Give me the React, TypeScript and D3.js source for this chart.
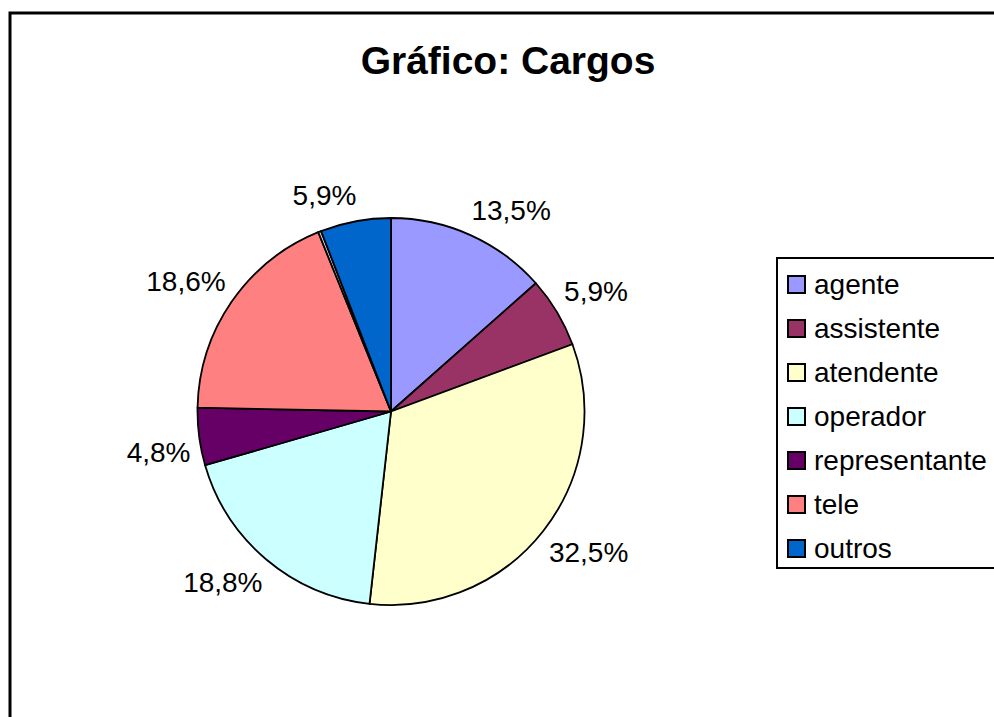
import React, { useEffect, useRef } from 'react';
import * as d3 from 'd3';

const categories = ['agente', 'assistente', 'atendente', 'operador', 'representante', 'tele', '', 'outros'];
const values = [13.5, 5.9, 32.5, 18.8, 4.8, 18.6, 0.25, 5.9];
const labels = ['13,5%', '5,9%', '32,5%', '18,8%', '4,8%', '18,6%', '', '5,9%'];
const colors = ['#9999FF', '#993366', '#FFFFCC', '#CCFFFF', '#660066', '#FF8080', '#E0E0E0', '#0066CC'];

const App = () => {
  const svgRef = useRef<SVGSVGElement>(null);

  useEffect(() => {
    document.body.style.margin = '0';
    const width = 994;
    const height = 717;
    const cx = 391;
    const cy = 411.5;
    const radius = 193.5;
    const font = 'Liberation Sans, Arial, sans-serif';

    const svg = d3.select(svgRef.current).attr('width', width).attr('height', height);
    svg.selectAll('*').remove();

    svg.append('rect').attr('width', width).attr('height', height).attr('fill', '#fff');

    // outer chart frame (runs off the right and bottom edges)
    svg
      .append('rect')
      .attr('x', 10)
      .attr('y', 13)
      .attr('width', 1010)
      .attr('height', 740)
      .attr('fill', 'none')
      .attr('stroke', '#000')
      .attr('stroke-width', 3);

    svg
      .append('text')
      .attr('x', 508)
      .attr('y', 74)
      .attr('text-anchor', 'middle')
      .attr('font-family', font)
      .attr('font-weight', 'bold')
      .attr('font-size', 39)
      .text('Gráfico: Cargos');

    const data = categories.map((name, i) => ({ name, value: values[i], label: labels[i], color: colors[i] }));

    const pie = d3
      .pie<any>()
      .sort(null)
      .value((d) => d.value);

    const arc = d3.arc<any>().innerRadius(0).outerRadius(radius);

    const g = svg.append('g').attr('transform', `translate(${cx},${cy})`);
    const arcs = pie(data);

    g.selectAll('path')
      .data(arcs)
      .enter()
      .append('path')
      .attr('d', arc)
      .attr('fill', (d) => d.data.color)
      .attr('stroke', '#000')
      .attr('stroke-width', 1.8)
      .attr('stroke-linejoin', 'round');

    // labels outside the pie, box pushed out along the mid angle
    const fontSize = 28;
    const gap = 12;
    arcs.forEach((d) => {
      if (!d.data.label) return;
      const a = (d.startAngle + d.endAngle) / 2;
      const s = Math.sin(a);
      const c = Math.cos(a);
      const t = g
        .append('text')
        .attr('font-family', font)
        .attr('font-size', fontSize)
        .attr('text-anchor', 'middle')
        .attr('dominant-baseline', 'central')
        .text(d.data.label);
      const w = (t.node() as SVGTextElement).getComputedTextLength();
      const x = (radius + gap) * s + Math.sign(s) * w * 0.45;
      const y = -(radius + gap) * c - Math.sign(c) * fontSize * 0.5;
      t.attr('x', x).attr('y', y);
    });

    // legend
    const legendItems = data.filter((d) => d.name !== '');
    const legend = svg.append('g').attr('transform', 'translate(777,258)');
    legend
      .append('rect')
      .attr('width', 240)
      .attr('height', 310)
      .attr('fill', '#fff')
      .attr('stroke', '#000')
      .attr('stroke-width', 2);

    const rowY = d3
      .scalePoint<string>()
      .domain(legendItems.map((d) => d.name))
      .range([26, 290]);

    const rows = legend
      .selectAll('.row')
      .data(legendItems)
      .enter()
      .append('g')
      .attr('class', 'row')
      .attr('transform', (d) => `translate(0,${rowY(d.name)})`);

    rows
      .append('rect')
      .attr('x', 11)
      .attr('y', -8)
      .attr('width', 17)
      .attr('height', 17)
      .attr('fill', (d) => d.color)
      .attr('stroke', '#000')
      .attr('stroke-width', 2);

    rows
      .append('text')
      .attr('x', 37)
      .attr('y', 10)
      .attr('font-family', font)
      .attr('font-size', 28)
      .text((d) => d.name);
  }, []);

  return <svg ref={svgRef} style={{ display: 'block' }} />;
};

export default App;
